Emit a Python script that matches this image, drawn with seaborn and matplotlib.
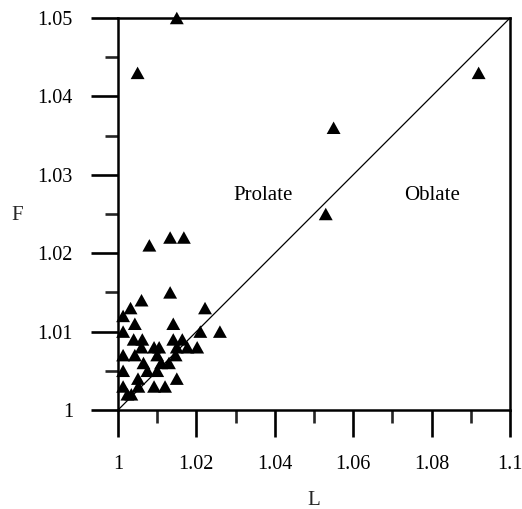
import matplotlib
matplotlib.use("Agg")
import matplotlib.pyplot as plt
import seaborn as sns
import pandas as pd
from matplotlib.ticker import MultipleLocator

L_values = [1.015, 1.005, 1.055, 1.092, 1.053, 1.008, 1.0133, 1.0168, 1.0133, 1.006,
            1.0032, 1.0013, 1.0222, 1.0013, 1.0043, 1.0141, 1.026, 1.021, 1.004, 1.0062,
            1.0141, 1.0164, 1.0202, 1.0177, 1.015, 1.0092, 1.0105, 1.006, 1.0013, 1.0043,
            1.010, 1.0147, 1.011, 1.0065, 1.013, 1.0075, 1.010, 1.0013, 1.0051, 1.015,
            1.0013, 1.0052, 1.0092, 1.012, 1.0024, 1.0034]
F_values = [1.050, 1.043, 1.036, 1.043, 1.025, 1.021, 1.022, 1.022, 1.015, 1.014,
            1.013, 1.012, 1.013, 1.010, 1.011, 1.011, 1.010, 1.010, 1.009, 1.009,
            1.009, 1.009, 1.008, 1.008, 1.008, 1.008, 1.008, 1.008, 1.007, 1.007,
            1.007, 1.007, 1.006, 1.006, 1.006, 1.005, 1.005, 1.005, 1.004, 1.004,
            1.003, 1.003, 1.003, 1.003, 1.002, 1.002]
line_L = [1.0, 1.1]
line_F = [1.0, 1.05]
region_labels = ["Prolate", "Oblate"]
region_L = [1.037, 1.080]
region_F = [1.0274, 1.0274]

df = pd.DataFrame({"L": L_values, "F": F_values})

sns.set_style("ticks")
plt.rcParams["font.family"] = ["Liberation Serif", "DejaVu Serif"]

fig = plt.figure(figsize=(5.22, 5.09), dpi=100)
ax = fig.add_axes([118/522, 1-410/509, 392/522, 392/509])

tri = [(-1, -0.9), (1, -0.9), (0, 0.9), (-1, -0.9)]

ax.plot(line_L, line_F, color="black", linewidth=0.9, zorder=2)
sns.scatterplot(data=df, x="L", y="F", marker=tri, s=100, color="black",
                edgecolor="none", linewidth=0, ax=ax, zorder=3, clip_on=False)

for t, x, y in zip(region_labels, region_L, region_F):
    ax.text(x, y, t, fontsize=15, ha="center", va="center", color="black")

ax.set_xlim(1.0, 1.1)
ax.set_ylim(1.0, 1.05)
ax.xaxis.set_major_locator(MultipleLocator(0.02))
ax.xaxis.set_minor_locator(MultipleLocator(0.01))
ax.yaxis.set_major_locator(MultipleLocator(0.01))
ax.yaxis.set_minor_locator(MultipleLocator(0.005))
ax.set_xticklabels([f"{v:g}" for v in ax.get_xticks()])
ax.set_yticklabels([f"{v:g}" for v in ax.get_yticks()])

for s in ax.spines.values():
    s.set_linewidth(1.8)
    s.set_color("black")
ax.tick_params(which="major", length=19.5, width=1.9, labelsize=14.5, colors="black", direction="out")
ax.tick_params(which="minor", length=9.5, width=1.9, direction="out")
ax.tick_params(axis="x", which="major", pad=13)
ax.tick_params(axis="y", which="major", pad=13)

ax.set_xlabel("L", fontsize=15)
ax.xaxis.label.set_va("center")
ax.xaxis.set_label_coords(0.499, -0.230)
ax.set_ylabel("F", fontsize=15, rotation=0)
ax.yaxis.label.set_va("center")
ax.yaxis.label.set_ha("center")
ax.yaxis.set_label_coords(-0.258, 0.497)

fig.savefig("out.png", dpi=100)
